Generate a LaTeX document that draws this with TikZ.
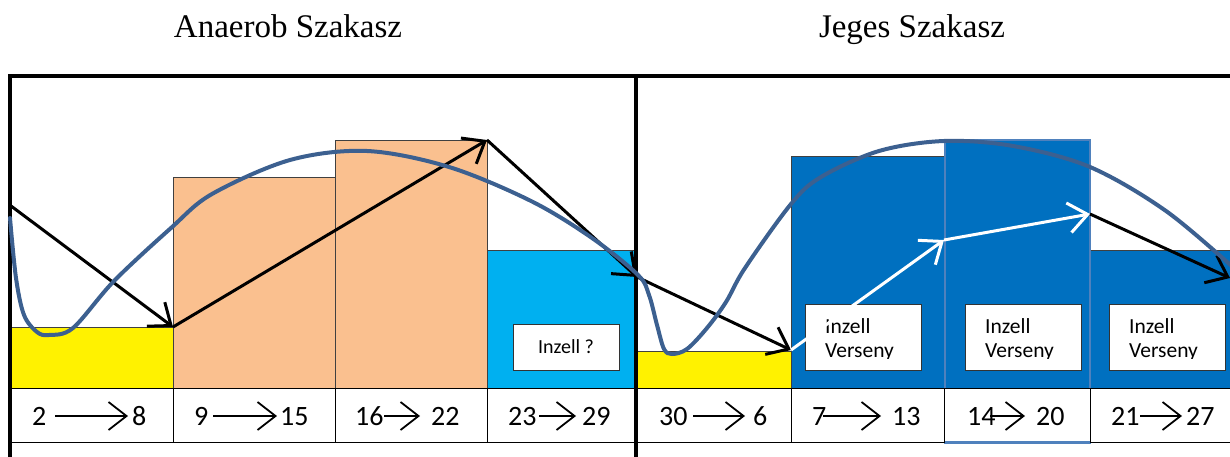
\documentclass[tikz,border=0pt]{standalone}
\usepackage{fontspec}
\setmainfont{Liberation Serif}
\newfontfamily\cellfont{Carlito}
\usetikzlibrary{arrows.meta}
\definecolor{peach}{HTML}{FAC08F}
\definecolor{icecyan}{HTML}{00B0F0}
\definecolor{iceblue}{HTML}{0070C0}
\definecolor{trendblue}{HTML}{3C6090}
\definecolor{weekframe}{HTML}{4F81BD}
\tikzset{
  bar/.style={draw=black!75,line width=0.8pt},
  cell/.style={draw=black,line width=0.9pt,fill=white},
  frame/.style={line width=3.2pt,line cap=rect},
  jump/.style={line width=3pt,-{Straight Barb[length=19pt,width=30pt]}},
  daytext/.style={font=\cellfont\fontsize{28}{30}\selectfont,anchor=base west,inner sep=0pt},
  dayarrow/.style={line width=1.8pt,-{Straight Barb[length=18pt,width=28pt]}},
  notebox/.style={draw=black!80,line width=0.8pt,fill=white},
  notetext/.style={font=\cellfont\fontsize{20}{24}\selectfont,inner sep=0pt},
  title/.style={font=\fontsize{33}{36}\selectfont,anchor=base,inner sep=0pt}
}
\begin{document}
\begin{tikzpicture}[x=1pt,y=-1pt]
  \useasboundingbox (0,0) rectangle (1230,457);
  \node[title] (anaerob) at (288,38) {Anaerob Szakasz};
  \node[title] (jeges) at (912,38) {Jeges Szakasz};
  \foreach \xa/\xb/\top/\col in {10/173/327/yellow,173/335/177/peach,335/487/140/peach,487/636/250/icecyan,
                                 636/791/351/yellow,791/944/156/iceblue,944/1090/140/iceblue,1090/1240/250/iceblue}{
    \fill[\col] (\xa,\top) rectangle (\xb,388);
    \draw[bar] (\xa,388) |- (\xb,\top) -- (\xb,388);
  }
  \draw[weekframe,line width=2pt] (944.5,140) rectangle (1089.5,443);
  \node[notebox,minimum width=106pt,minimum height=46pt] (question) at (566,347) {};
  \node[notetext] (questiontext) at (question) {Inzell ?};
  \foreach \n/\xa in {1/805,2/965,3/1109}{
    \draw[notebox] (\xa,304) rectangle ++(116,66);
    \begin{scope}
      \clip (\xa,304) rectangle ++(116,54);
      \node[notetext,font=\cellfont\fontsize{21.5}{24}\selectfont,anchor=base west] (inzell\n) at (\xa+20,333) {Inzell};
      \node[notetext,font=\cellfont\fontsize{21.5}{24}\selectfont,anchor=base west] (verseny\n) at (\xa+20,357) {Verseny};
    \end{scope}
  }
  \foreach \xa/\xb in {10/173,173/335,335/487,487/636,636/791,791/944,944/1090,1090/1240}
    \draw[cell] (\xa,388) rectangle (\xb,442);
  \draw[weekframe,line width=1.5pt] (944.5,442) -- (1089.5,442);
  \foreach \n/\lx/\lt/\ax/\bx/\rx/\rt in {1/32/2/55/128/132/8,2/194/9/213/277/280/15,3/355/16/384/420/431/22,4/508/23/539/576/582/29,
                                         5/659/30/693/745/753/6,6/812/7/823/881/892/13,7/967/14/990/1025/1036/20,8/1111/21/1140/1182/1186/27}{
    \node[daytext] (from\n) at (\lx,425) {\lt};
    \node[daytext] (to\n) at (\rx,425) {\rt};
    \coordinate (s\n) at (\ax,416);
    \coordinate (e\n) at (\bx,416);
    \draw[dayarrow] (s\n) -- (e\n);
  }
  \draw[frame] (10,457) -- (10,76) -- (1235,76);
  \draw[frame] (636,76) -- (636,457);
  \coordinate (p0) at (11,206);
  \coordinate (p1) at (173,327);
  \coordinate (p2) at (487,140);
  \coordinate (p3) at (637,277);
  \coordinate (p4) at (791,350);
  \coordinate (p5) at (944,240);
  \coordinate (p6) at (1090,214);
  \coordinate (p7) at (1230,278);
  \draw[jump] (p0) -- (p1);
  \draw[jump] (p1) -- (p2);
  \draw[jump] (p2) -- (p3);
  \draw[jump] (p3) -- (p4);
  \draw[jump,white] (p4) -- (p5);
  \draw[jump,white] (p5) -- (p6);
  \draw[jump] (p6) -- (p7);
  \draw[trendblue,line width=4pt,line cap=round] plot[smooth,tension=0.55] coordinates {
    (10,218) (16,278) (24,315) (37,332) (49,335) (73,328) (114,281) (171,228) (212,194) (290,160)
    (367,151) (449,167) (531,201) (592,238) (638,275) (649,295) (657,325) (664,349)
    (672,354) (687,349) (707,328) (726,302) (745,268) (791,204) (821,177) (879,151) (944,141)
    (1013,146) (1090,167) (1166,211) (1236,270)};
\end{tikzpicture}
\end{document}
